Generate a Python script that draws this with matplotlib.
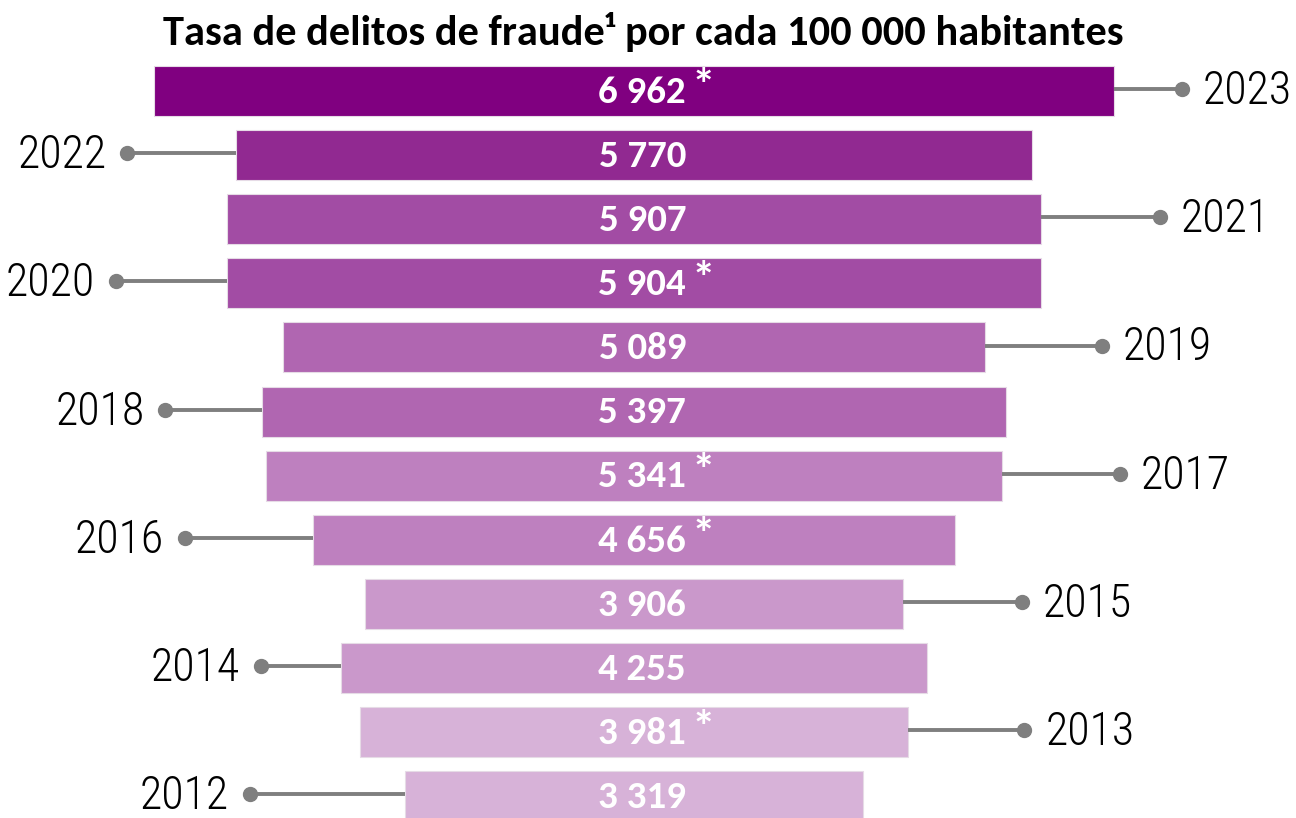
import matplotlib.pyplot as plt

years = [2023, 2022, 2021, 2020, 2019, 2018, 2017, 2016, 2015, 2014, 2013, 2012]
rates = [6962, 5770, 5907, 5904, 5089, 5397, 5341, 4656, 3906, 4255, 3981, 3319]
flagged = [True, False, False, True, False, False, True, True, False, False, True, False]
value_labels = ["6 962", "5 770", "5 907", "5 904", "5 089", "5 397",
                "5 341", "4 656", "3 906", "4 255", "3 981", "3 319"]

# styling
colors = ["#800080", "#912991", "#A24CA4", "#A24CA4", "#B066B1", "#B066B1",
          "#BE80BF", "#BE80BF", "#CA98CB", "#CA98CB", "#D7B2D8", "#D7B2D8"]
sides = ["r", "l", "r", "l", "r", "l", "r", "l", "r", "l", "r", "l"]
stub = [490, 790, 860, 805, 850, 700, 855, 930, 860, 580, 840, 1125]

fig = plt.figure(figsize=(12.96, 8.18), dpi=100)
ax = fig.add_axes([0, 0, 1, 1])
ax.set_xlim(-4598, 4801)
ax.set_ylim(11.34, -1.42)
ax.axis("off")

ypos = list(range(len(years)))
ax.barh(ypos, rates, left=[-r / 2 for r in rates], height=0.78,
        color=colors, edgecolor="#e6dbe6", linewidth=0.8)

for i, (y, r) in enumerate(zip(years, rates)):
    t = ax.text(60, i + 0.02, value_labels[i], ha="center", va="center", color="white",
                fontsize=28, fontweight="bold", family="Carlito")
    if flagged[i]:
        # asterisk sits a little above the digits
        ax.annotate("*", xy=(1, 1), xycoords=t, xytext=(4, 6), textcoords="offset points",
                    ha="left", va="top", color="white", fontsize=34, fontweight="bold",
                    family="Carlito")
    if sides[i] == "r":
        x0 = r / 2
        x1 = x0 + stub[i]
        ha, off = "left", 15
    else:
        x0 = -r / 2
        x1 = x0 - stub[i]
        ha, off = "right", -15
    ax.plot([x0, x1], [i - 0.03, i - 0.03], color="#7f7f7f", lw=2.8, solid_capstyle="butt")
    ax.plot([x1], [i - 0.03], "o", color="#7f7f7f", ms=10)
    ax.annotate(str(y), xy=(x1, i), xytext=(off, 0), textcoords="offset points",
                ha=ha, va="center", fontsize=33, family="Roboto Condensed",
                fontweight=300, color="black")

fig.text(0.496, 0.961, "Tasa de delitos de fraude¹ por cada 100 000 habitantes",
         ha="center", va="center", fontsize=30.5, fontweight="bold", family="Carlito")

fig.savefig("out.png", dpi=100)
